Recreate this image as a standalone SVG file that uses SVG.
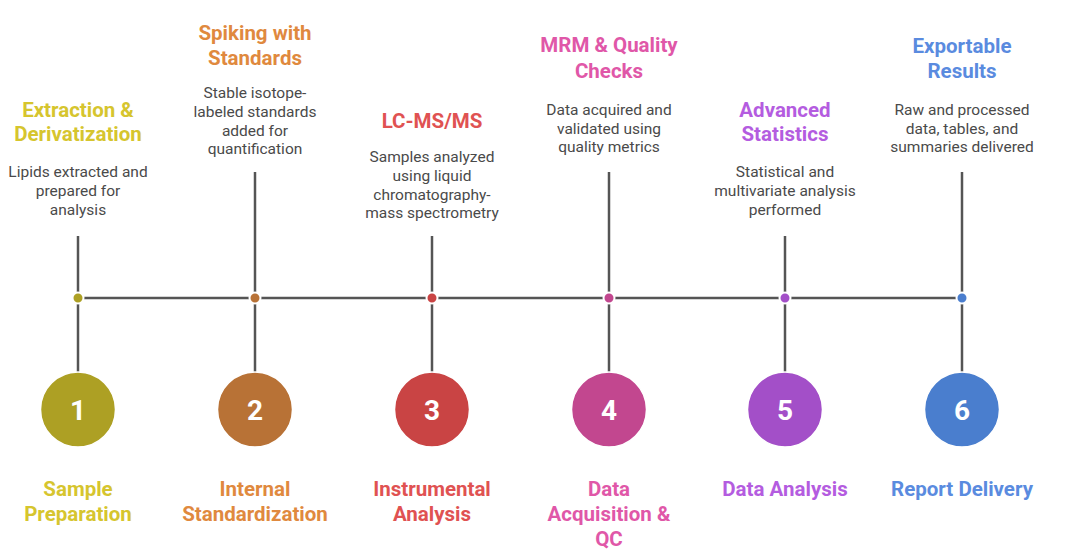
<svg xmlns="http://www.w3.org/2000/svg" width="1065" height="560" viewBox="0 0 1065 560">
<style>
.t{font-family:Roboto,"Liberation Sans",sans-serif;font-weight:700;font-size:20.5px;text-anchor:middle}
.d{font-family:Roboto,"Liberation Sans",sans-serif;font-size:15.5px;fill:#4a4a4a;text-anchor:middle}
.n{font-family:Roboto,"Liberation Sans",sans-serif;font-weight:700;font-size:28px;fill:#fff;text-anchor:middle}
.ln{stroke:#555;stroke-width:2.5;fill:none}
.c{stroke:#fff;stroke-width:1.5}
.dot{stroke:#fff;stroke-width:2}
</style>
<rect width="1065" height="560" fill="#fff"/>
<g id="connectors">
<line class="ln" x1="78" y1="236" x2="78" y2="372"/>
<line class="ln" x1="255" y1="172" x2="255" y2="372"/>
<line class="ln" x1="432" y1="236" x2="432" y2="372"/>
<line class="ln" x1="609" y1="172" x2="609" y2="372"/>
<line class="ln" x1="785" y1="236" x2="785" y2="372"/>
<line class="ln" x1="962" y1="172" x2="962" y2="372"/>
<line class="ln" x1="78" y1="298" x2="962" y2="298"/>
</g>
<g id="step1">
<circle class="dot" cx="78" cy="298" r="5.5" fill="#ADA024"/>
<circle class="c" cx="78" cy="409.5" r="37.5" fill="#ADA024"/>
<text class="n" x="78" y="419.5">1</text>
<text class="t" fill="#D6C52E" x="78" y="117">Extraction &amp;</text>
<text class="t" fill="#D6C52E" x="78" y="141">Derivatization</text>
<text class="d" x="78" y="177">Lipids extracted and</text>
<text class="d" x="78" y="196">prepared for</text>
<text class="d" x="78" y="215">analysis</text>
<text class="t" fill="#D6C52E" x="78" y="496">Sample</text>
<text class="t" fill="#D6C52E" x="78" y="521">Preparation</text>
</g>
<g id="step2">
<circle class="dot" cx="255" cy="298" r="5.5" fill="#B87236"/>
<circle class="c" cx="255" cy="409.5" r="37.5" fill="#B87236"/>
<text class="n" x="255" y="419.5">2</text>
<text class="t" fill="#E0893E" x="255" y="40">Spiking with</text>
<text class="t" fill="#E0893E" x="255" y="65">Standards</text>
<text class="d" x="255" y="98">Stable isotope-</text>
<text class="d" x="255" y="117">labeled standards</text>
<text class="d" x="255" y="136">added for</text>
<text class="d" x="255" y="154">quantification</text>
<text class="t" fill="#E0893E" x="255" y="496">Internal</text>
<text class="t" fill="#E0893E" x="255" y="521">Standardization</text>
</g>
<g id="step3">
<circle class="dot" cx="432" cy="298" r="5.5" fill="#C94444"/>
<circle class="c" cx="432" cy="409.5" r="37.5" fill="#C94444"/>
<text class="n" x="432" y="419.5">3</text>
<text class="t" fill="#E05252" x="432" y="128">LC-MS/MS</text>
<text class="d" x="432" y="162">Samples analyzed</text>
<text class="d" x="432" y="181">using liquid</text>
<text class="d" x="432" y="200">chromatography-</text>
<text class="d" x="432" y="218">mass spectrometry</text>
<text class="t" fill="#E05252" x="432" y="496">Instrumental</text>
<text class="t" fill="#E05252" x="432" y="521">Analysis</text>
</g>
<g id="step4">
<circle class="dot" cx="609" cy="298" r="5.5" fill="#C2478F"/>
<circle class="c" cx="609" cy="409.5" r="37.5" fill="#C2478F"/>
<text class="n" x="609" y="419.5">4</text>
<text class="t" fill="#E057A8" x="609" y="52">MRM &amp; Quality</text>
<text class="t" fill="#E057A8" x="609" y="78">Checks</text>
<text class="d" x="609" y="115">Data acquired and</text>
<text class="d" x="609" y="134">validated using</text>
<text class="d" x="609" y="152">quality metrics</text>
<text class="t" fill="#E057A8" x="609" y="496">Data</text>
<text class="t" fill="#E057A8" x="609" y="521">Acquisition &amp;</text>
<text class="t" fill="#E057A8" x="609" y="546">QC</text>
</g>
<g id="step5">
<circle class="dot" cx="785" cy="298" r="5.5" fill="#A34FC8"/>
<circle class="c" cx="785" cy="409.5" r="37.5" fill="#A34FC8"/>
<text class="n" x="785" y="419.5">5</text>
<text class="t" fill="#B45CE0" x="785" y="117">Advanced</text>
<text class="t" fill="#B45CE0" x="785" y="141">Statistics</text>
<text class="d" x="785" y="177">Statistical and</text>
<text class="d" x="785" y="196">multivariate analysis</text>
<text class="d" x="785" y="215">performed</text>
<text class="t" fill="#B45CE0" x="785" y="496">Data Analysis</text>
</g>
<g id="step6">
<circle class="dot" cx="962" cy="298" r="5.5" fill="#4A7ECE"/>
<circle class="c" cx="962" cy="409.5" r="37.5" fill="#4A7ECE"/>
<text class="n" x="962" y="419.5">6</text>
<text class="t" fill="#5A8BDF" x="962" y="53">Exportable</text>
<text class="t" fill="#5A8BDF" x="962" y="78">Results</text>
<text class="d" x="962" y="115">Raw and processed</text>
<text class="d" x="962" y="134">data, tables, and</text>
<text class="d" x="962" y="152">summaries delivered</text>
<text class="t" fill="#5A8BDF" x="962" y="496">Report Delivery</text>
</g>
</svg>
